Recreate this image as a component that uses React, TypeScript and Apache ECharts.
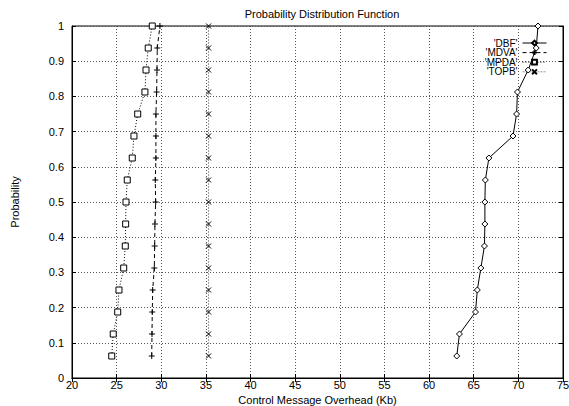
import React, { useEffect, useRef } from "react";
import * as echarts from "echarts";

const probability = [0.0625, 0.125, 0.1875, 0.25, 0.3125, 0.375, 0.4375, 0.5, 0.5625, 0.625, 0.6875, 0.75, 0.8125, 0.875, 0.9375, 1];
const dbf = [63.1, 63.4, 65.2, 65.4, 65.8, 66.2, 66.25, 66.25, 66.3, 66.7, 69.4, 69.8, 69.9, 71.1, 72.0, 72.2];
const mdva = [28.93, 28.96, 28.99, 29.04, 29.22, 29.26, 29.29, 29.37, 29.33, 29.4, 29.4, 29.4, 29.48, 29.52, 29.55, 29.85];
const mpda = [24.45, 24.62, 25.12, 25.26, 25.79, 25.97, 26.01, 26.05, 26.19, 26.75, 26.94, 27.36, 28.17, 28.29, 28.54, 28.99];
const topb = [35.3, 35.3, 35.3, 35.3, 35.3, 35.3, 35.3, 35.3, 35.3, 35.3, 35.3, 35.3, 35.3, 35.3, 35.3, 35.3];
const seriesNames = ["'DBF'", "'MDVA'", "'MPDA'", "'TOPB'"];

const FONT = "'Liberation Sans', Arial, Helvetica, sans-serif";
const PLUS = "path://M0,5L10,5M5,0L5,10";
const CROSS = "path://M0,0L10,10M10,0L0,10";
const DIAMOND = "path://M5,0L10,5L5,10L0,5Z";
const SQUARE = "path://M0,0L10,0L10,10L0,10Z";

function pairs(xs: number[]) {
  return xs.map((x, i) => [x, probability[i]]);
}

export default function App() {
  const ref = useRef<HTMLDivElement>(null);
  useEffect(() => {
    if (!ref.current) return;
    const chart = echarts.init(ref.current, undefined, { renderer: "svg" });
    const axisLabel = { color: "#000", fontFamily: FONT, fontSize: 11 };
    const splitLine = { show: true, lineStyle: { color: "#555", type: [1, 2] as any, width: 1 } };
    chart.setOption({
      animation: false,
      backgroundColor: "#fff",
      title: {
        text: "Probability Distribution Function",
        left: 317,
        textAlign: "center",
        top: 3,
        textStyle: { fontFamily: FONT, fontSize: 11, fontWeight: "normal", color: "#000" },
      },
      legend: {
        orient: "vertical",
        right: 17,
        top: 33,
        align: "right",
        itemWidth: 24,
        itemHeight: 6,
        itemGap: -0.4,
        lineStyle: { width: 1 },
        textStyle: { fontFamily: FONT, fontSize: 10, lineHeight: 8, height: 8, color: "#000" },
        data: seriesNames,
      },
      grid: {
        left: 72,
        right: 6,
        top: 26,
        bottom: 28,
        show: true,
        borderColor: "#000",
        borderWidth: 1,
        outerBoundsMode: "none",
        containLabel: false,
      },
      xAxis: [
        {
          type: "value",
          min: 20,
          max: 75,
          interval: 5,
          name: "Control Message Overhead (Kb)",
          nameLocation: "middle",
          nameGap: 10,
          nameTextStyle: { fontFamily: FONT, fontSize: 11, color: "#000" },
          axisLine: { show: true, lineStyle: { color: "#000" } },
          axisTick: { show: true, inside: true, length: 4, lineStyle: { color: "#000" } },
          axisLabel: { ...axisLabel, margin: 1 },
          splitLine,
        },
        {
          type: "value",
          position: "top",
          min: 20,
          max: 75,
          interval: 5,
          axisLine: { show: true, lineStyle: { color: "#000" } },
          axisTick: { show: true, inside: true, length: 4, lineStyle: { color: "#000" } },
          axisLabel: { show: false },
          splitLine: { show: false },
        },
      ],
      yAxis: [
        {
          type: "value",
          min: 0,
          max: 1,
          interval: 0.1,
          name: "Probability",
          nameLocation: "middle",
          nameGap: 52,
          nameTextStyle: { fontFamily: FONT, fontSize: 11, color: "#000" },
          axisLine: { show: true, lineStyle: { color: "#000" } },
          axisTick: { show: true, inside: true, length: 4, lineStyle: { color: "#000" } },
          axisLabel: { ...axisLabel, margin: 8 },
          splitLine,
        },
        {
          type: "value",
          position: "right",
          min: 0,
          max: 1,
          interval: 0.1,
          axisLine: { show: true, lineStyle: { color: "#000" } },
          axisTick: { show: true, inside: true, length: 4, lineStyle: { color: "#000" } },
          axisLabel: { show: false },
          splitLine: { show: false },
        },
      ],
      series: [
        {
          name: seriesNames[0],
          type: "line",
          data: pairs(dbf),
          symbol: DIAMOND,
          symbolSize: 6,
          showAllSymbol: true,
          lineStyle: { color: "#000", width: 1, type: "solid" },
          itemStyle: { color: "#fff", borderColor: "#000", borderWidth: 1 },
          z: 5,
        },
        {
          name: seriesNames[1],
          type: "line",
          data: pairs(mdva),
          symbol: PLUS,
          symbolSize: 6,
          showAllSymbol: true,
          lineStyle: { color: "#000", width: 1, type: [4, 3] as any },
          itemStyle: { color: "#000", borderColor: "#000", borderWidth: 1 },
          z: 5,
        },
        {
          name: seriesNames[2],
          type: "line",
          data: pairs(mpda),
          symbol: SQUARE,
          symbolSize: 6,
          showAllSymbol: true,
          lineStyle: { color: "#000", width: 1, type: [1, 2] as any },
          itemStyle: { color: "#fff", borderColor: "#000", borderWidth: 1 },
          z: 5,
        },
        {
          name: seriesNames[3],
          type: "line",
          data: pairs(topb),
          symbol: CROSS,
          symbolSize: 5,
          showAllSymbol: true,
          lineStyle: { color: "#999", width: 1, type: [2, 1] as any },
          itemStyle: { color: "#000", borderColor: "#000", borderWidth: 1 },
          z: 5,
        },
      ],
    });
    return () => chart.dispose();
  }, []);
  return (
    <div
      ref={ref}
      style={{ position: "absolute", left: 0, top: 0, width: 569, height: 406, background: "#fff" }}
    />
  );
}
